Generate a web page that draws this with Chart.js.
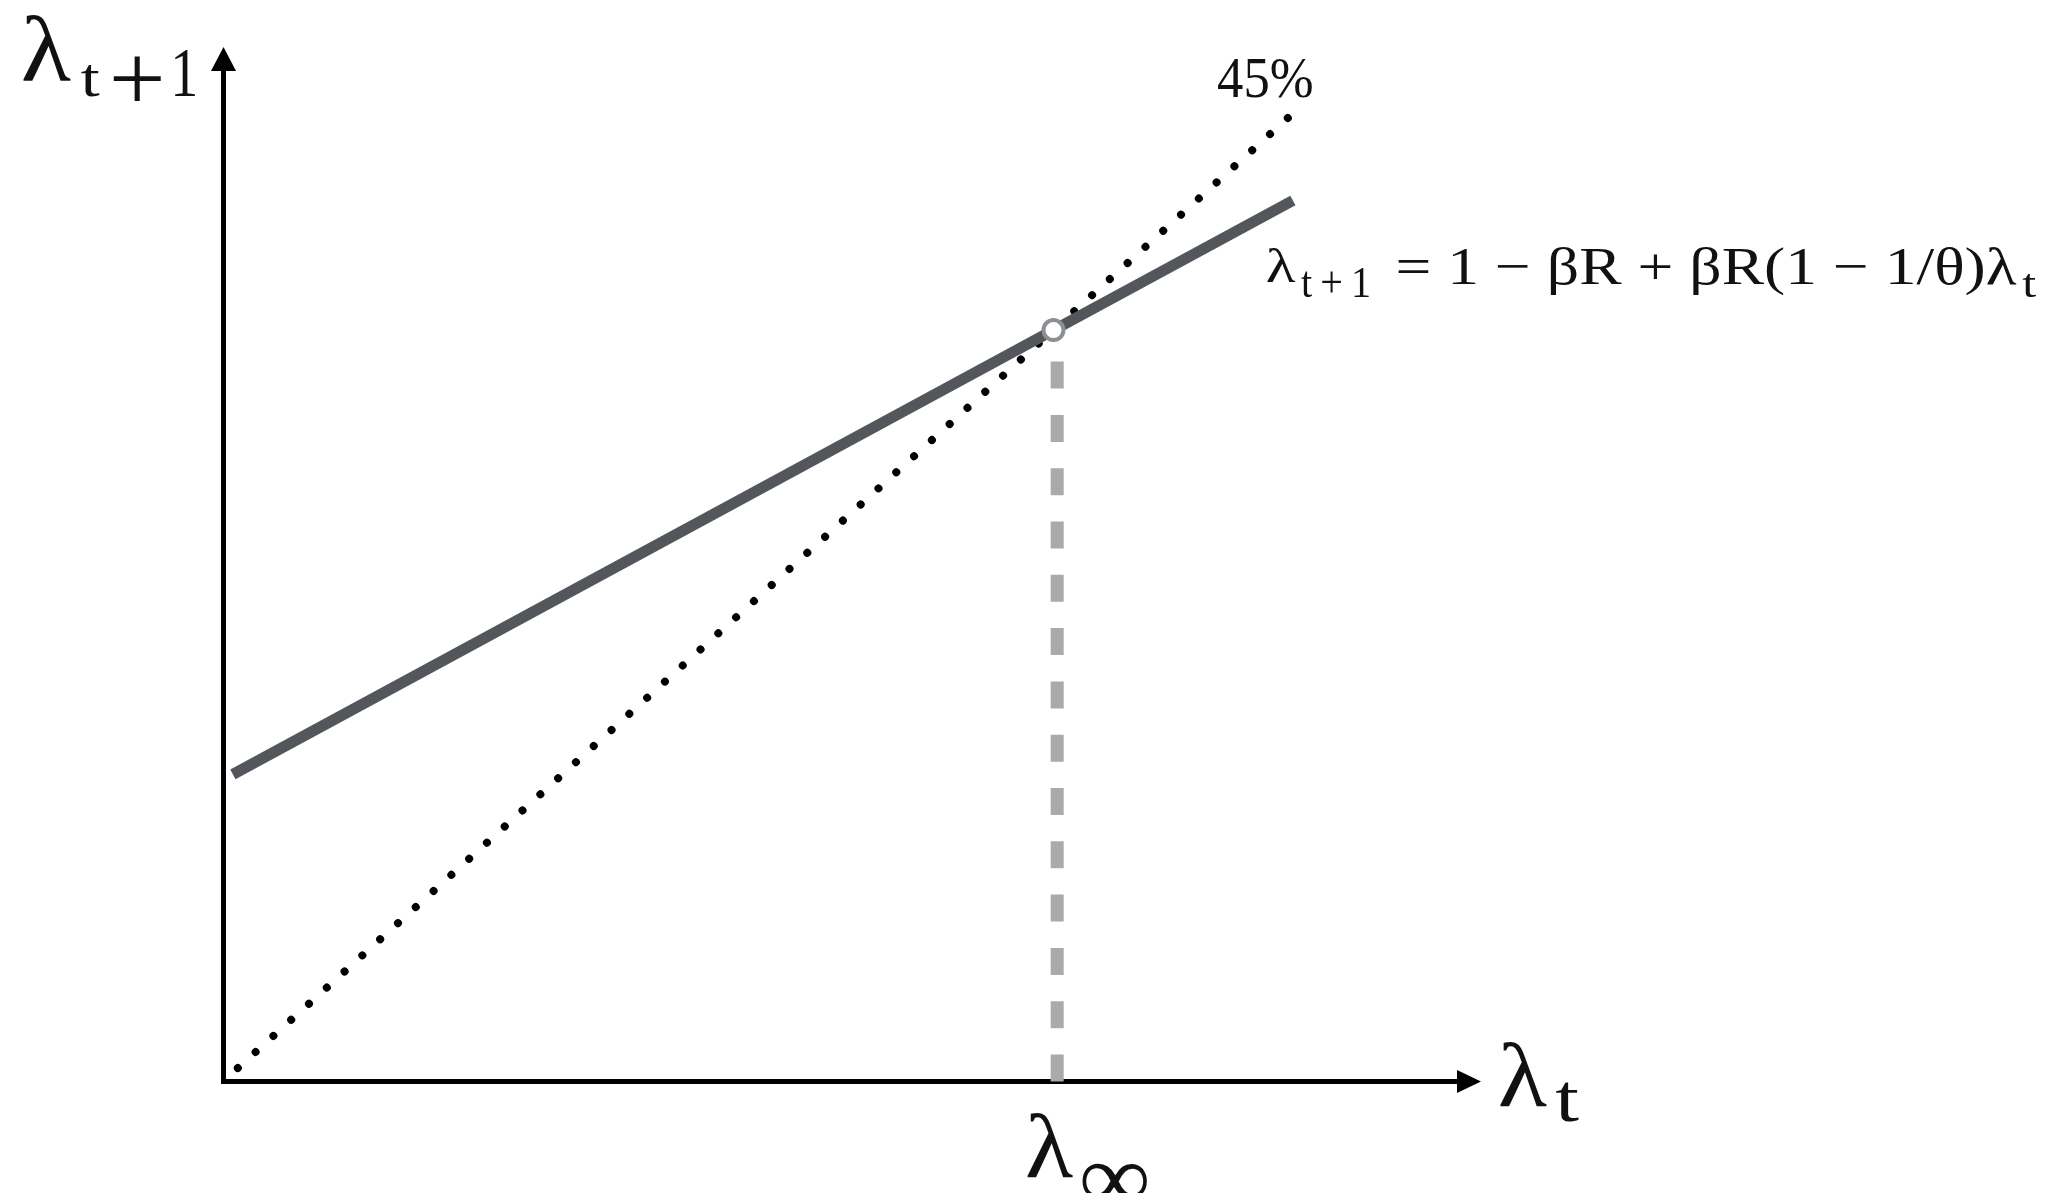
<!DOCTYPE html>
<html lang="en">
<head>
<meta charset="UTF-8">
<title>Steady state of lambda</title>
<style>
    body { margin: 0; background: #fff; }
    canvas { display: block; }
</style>
</head>
<body>
<canvas id="chart" width="2069" height="1193"></canvas>

<script src="https://cdn.jsdelivr.net/npm/chart.js"></script>
<script>
// law of motion: lambda_{t+1} = 1 - bR + bR(1 - 1/theta) lambda_t
const lawX = [0.08, 8.67];
const lawY = [2.75, 7.89];
// 45 degree line
const diagX = [0.12, 8.63];
const diagY = [0.12, 8.63];
// steady state and its drop line to the axis
const fixedX = [6.73];
const fixedY = [6.73];
const dropX = [6.76, 6.76];
const dropY = [0, 6.45];

const FONT = '"Liberation Serif", "DejaVu Serif", serif';

function pts(xs, ys) {
    return xs.map((x, i) => ({ x: x, y: ys[i] }));
}

// draw a string so that its ink fills the box [left, right, top, bottom];
// maxStretch limits how much wider than tall the glyphs may be pulled
function fitText(ctx, str, size, box, maxStretch) {
    ctx.font = size + 'px ' + FONT;
    const m = ctx.measureText(str);
    const w = m.actualBoundingBoxLeft + m.actualBoundingBoxRight;
    const h = m.actualBoundingBoxAscent + m.actualBoundingBoxDescent;
    const sy = (box[3] - box[2]) / h;
    let sx = (box[1] - box[0]) / w;
    if (maxStretch && sx > sy * maxStretch) sx = sy * maxStretch;
    const dx = ((box[1] - box[0]) - w * sx) / 2;
    ctx.save();
    ctx.translate(box[0] + dx, box[2]);
    ctx.scale(sx, sy);
    ctx.fillText(str, m.actualBoundingBoxLeft, m.actualBoundingBoxAscent);
    ctx.restore();
}

// draw a string on a baseline, stretched to span left..right
function spanText(ctx, str, size, left, right, baseline) {
    ctx.font = size + 'px ' + FONT;
    const m = ctx.measureText(str);
    const w = m.actualBoundingBoxLeft + m.actualBoundingBoxRight;
    ctx.save();
    ctx.translate(left, baseline);
    ctx.scale((right - left) / w, 1);
    ctx.fillText(str, m.actualBoundingBoxLeft, 0);
    ctx.restore();
}

const arrows = {
    id: 'arrows',
    afterDraw(chart) {
        const { ctx, chartArea } = chart;
        const ax = Math.round(chartArea.left - 2.5) + 2.5;
        const ay = Math.round(chartArea.bottom - 2.5) + 2.5;
        ctx.save();
        ctx.fillStyle = '#000';
        ctx.beginPath();
        ctx.moveTo(ax, chartArea.top - 24);
        ctx.lineTo(ax - 12.5, chartArea.top);
        ctx.lineTo(ax + 12.5, chartArea.top);
        ctx.closePath();
        ctx.fill();
        ctx.beginPath();
        ctx.moveTo(chartArea.right + 24, ay);
        ctx.lineTo(chartArea.right, ay - 11.5);
        ctx.lineTo(chartArea.right, ay + 11.5);
        ctx.closePath();
        ctx.fill();
        ctx.restore();
    }
};

const labels = {
    id: 'labels',
    afterDraw(chart) {
        const ctx = chart.ctx;
        ctx.save();
        ctx.fillStyle = '#111';
        ctx.textAlign = 'left';
        ctx.textBaseline = 'alphabetic';

        // y axis title
        fitText(ctx, 'λ', 95, [23, 71, 15, 82]);
        fitText(ctx, 't', 70, [76, 105, 65, 97], 1.25);
        fitText(ctx, '+', 70, [113, 162, 55, 100], 1.3);
        fitText(ctx, '1', 70, [175, 195, 50, 96], 1.2);

        // x axis title
        fitText(ctx, 'λ', 95, [1500, 1547, 1042, 1107]);
        fitText(ctx, 't', 70, [1553, 1582, 1082, 1122], 1.25);

        // steady state label
        fitText(ctx, 'λ', 95, [1027, 1073, 1113, 1178]);
        fitText(ctx, '∞', 90, [1082, 1147, 1163, 1200]);

        // 45 degree line label
        fitText(ctx, '45%', 56, [1218, 1312, 58, 98]);

        // equation of the law of motion
        fitText(ctx, 'λ', 53, [1267, 1296, 248, 283]);
        fitText(ctx, 't\u2009+\u20091', 40, [1301, 1369, 268, 297]);
        spanText(ctx, '= 1 − βR + βR(1 − 1/θ)λ', 53, 1398, 2017, 284);
        fitText(ctx, 't', 40, [2021, 2037, 274, 297], 1.25);
        ctx.restore();
    }
};

const hiddenAxis = {
    type: 'linear',
    ticks: { display: false },
    grid: { display: false, drawTicks: false },
    border: { display: true, width: 5, color: '#000' }
};

new Chart(document.getElementById('chart').getContext('2d'), {
    type: 'scatter',
    data: {
        datasets: [
            {
                label: 'steady state',
                data: pts(fixedX, fixedY),
                showLine: false,
                pointRadius: 10,
                pointBorderWidth: 4,
                pointBackgroundColor: '#fff',
                pointBorderColor: '#8d9093',
                order: 0,
                clip: false
            },
            {
                label: 'law of motion',
                data: pts(lawX, lawY),
                showLine: true,
                borderColor: '#53575c',
                borderWidth: 11,
                borderCapStyle: 'butt',
                pointRadius: 0,
                order: 1,
                clip: false
            },
            {
                label: 'drop',
                data: pts(dropX, dropY),
                showLine: true,
                borderColor: '#a8abaa',
                borderWidth: 13,
                borderDash: [27, 26.3],
                borderCapStyle: 'butt',
                pointRadius: 0,
                order: 2,
                clip: false
            },
            {
                label: '45%',
                data: pts(diagX, diagY),
                showLine: true,
                borderColor: '#000',
                borderWidth: 8,
                borderDash: [0.001, 24],
                borderCapStyle: 'round',
                pointRadius: 0,
                order: 3,
                clip: false
            }
        ]
    },
    options: {
        responsive: false,
        animation: false,
        events: [],
        layout: { padding: { left: 223, right: 612, top: 71, bottom: 111.5 } },
        scales: {
            x: Object.assign({}, hiddenAxis, { min: 0, max: 10, afterFit: s => { s.height = 0; } }),
            y: Object.assign({}, hiddenAxis, { min: 0, max: 9.05, afterFit: s => { s.width = 0; } })
        },
        plugins: {
            legend: { display: false },
            tooltip: { enabled: false }
        }
    },
    plugins: [arrows, labels]
});
</script>
</body>
</html>
